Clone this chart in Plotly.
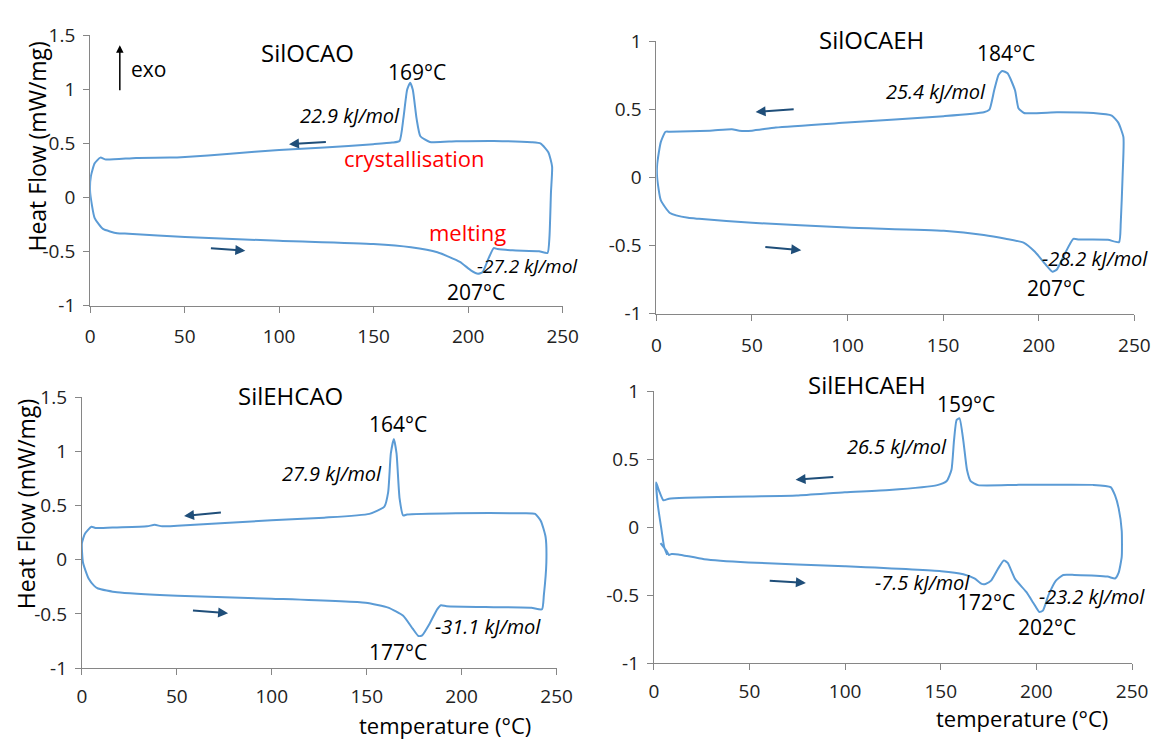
import plotly.graph_objects as go

# ---------------- data ----------------
# SilOCAO loop: heating (lower) left->right, then cooling (upper) right->left
T1 = [0, 2.4, 6.8, 14.3, 20.3, 50.2, 100, 149.8, 169.7, 183.7, 195.6, 201.6, 205.2, 207.6, 210.6, 213.5,
      215.5, 223.5, 237.5, 242, 243, 243.8, 244.4, 242.4, 238.4,
      233.5, 213.5, 193.6, 179.7, 174.7, 172.7, 170.7, 169.3, 167.7, 165.7, 163.7, 159.8, 149.8, 123.9,
      100, 74.1, 50.2, 42.2, 24.3, 8.4, 5.4, 2.4, 0.4, 0]
HF1 = [0.05, -0.19, -0.29, -0.33, -0.334, -0.364, -0.40, -0.43, -0.46, -0.506, -0.595, -0.675, -0.704, -0.69,
       -0.57, -0.467, -0.476, -0.488, -0.497, -0.512, -0.364, 0.05, 0.287, 0.42, 0.50,
       0.512, 0.524, 0.521, 0.515, 0.568, 0.73, 0.997, 1.062, 0.997, 0.73, 0.524, 0.509, 0.494, 0.464,
       0.441, 0.405, 0.376, 0.37, 0.367, 0.352, 0.37, 0.317, 0.198, 0.05]

# SilOCAEH
T2 = [0.4, 2.3, 7.1, 16.6, 22.3, 50, 99.7, 150.3, 171.3, 182.7, 192.3, 198, 203.7, 207.2, 209.5, 213.3,
      218.1, 221, 236.2, 242, 242.9, 243.9, 244.3, 241.6, 238.2,
      228.6, 209.5, 192.3, 189.4, 187.6, 183.7, 180.9, 179, 176.7, 174.2, 171.3, 150.3, 99.7, 62.5,
      50, 43.4, 39.5, 28, 7.1, 4.8, 2.3, 0.4, 0.4]
HF2 = [0, -0.166, -0.26, -0.296, -0.303, -0.332, -0.367, -0.391, -0.422, -0.45, -0.479, -0.545, -0.64, -0.692,
       -0.675, -0.569, -0.45, -0.455, -0.457, -0.474, -0.332, 0.024, 0.296, 0.403, 0.455,
       0.474, 0.479, 0.474, 0.509, 0.64, 0.765, 0.782, 0.754, 0.64, 0.498, 0.479, 0.45, 0.403, 0.367,
       0.344, 0.344, 0.355, 0.344, 0.336, 0.336, 0.26, 0.095, 0]

# SilEHCAO
T3 = [0, 0.6, 3.6, 6.5, 8.5, 18.5, 50.2, 99.8, 149.4, 161.3, 169.2, 174.2, 177.2, 179.2, 183.1, 187.1,
      189.1, 192.1, 216.9, 236.7, 242.3, 243.3, 244.6, 244.2, 241.7, 238.7,
      232.7, 197, 171.2, 169.2, 167.3, 165.7, 164.3, 162.7, 161.3, 159.3, 151.4, 127.6, 99.8, 50.2,
      42.3, 38.3, 34.3, 18.5, 7.5, 5, 1.6, 0]
HF3 = [0.15, -0.028, -0.176, -0.241, -0.265, -0.30, -0.332, -0.359, -0.397, -0.442, -0.516, -0.635, -0.703,
       -0.697, -0.59, -0.457, -0.419, -0.428, -0.437, -0.443, -0.457, -0.324, -0.027, 0.21, 0.358, 0.423,
       0.429, 0.429, 0.417, 0.408, 0.566, 0.98, 1.114, 0.98, 0.624, 0.49, 0.423, 0.388, 0.364, 0.314,
       0.308, 0.322, 0.308, 0.298, 0.292, 0.304, 0.24, 0.15]

# SilEHCAEH
T4 = [3.5, 6.6, 7.9, 9.3, 12.8, 26.3, 49.5, 99.8, 150.2, 161.8, 167.6, 171.4, 173.4, 176.3, 180.2, 183,
      185, 188.9, 194.7, 198.5, 201.5, 203.4, 206.3, 210.2, 214, 219.8, 237.2, 241.1,
      243, 244.6, 244.6, 243, 241.1, 238.8,
      229.5, 190.8, 169.5, 165.6, 163.7, 161.8, 159.8, 158.3, 156.9, 155.6, 153.1, 148.2, 123.1, 99.8,
      74.7, 49.5, 16.6, 7.9, 5, 2.7, 1.2, 2.1, 4.1, 5.4, 7]
HF4 = [-0.116, -0.173, -0.203, -0.196, -0.199, -0.234, -0.258, -0.286, -0.322, -0.345, -0.376, -0.416,
       -0.416, -0.392, -0.298, -0.243, -0.262, -0.381, -0.475, -0.558, -0.622, -0.612, -0.499, -0.392,
       -0.35, -0.35, -0.362, -0.376,
       -0.333, -0.215, -0.026, 0.139, 0.234, 0.296,
       0.312, 0.312, 0.31, 0.34, 0.423, 0.636, 0.801, 0.79, 0.636, 0.423, 0.34, 0.31, 0.274, 0.258,
       0.234, 0.227, 0.217, 0.21, 0.199, 0.27, 0.329, 0.163, -0.026, -0.144, -0.203]

X_TICKS = [0, 50, 100, 150, 200, 250]
Y_TICKS_A = [-1, -0.5, 0, 0.5, 1, 1.5]
Y_TEXT_A = ["-1", "-0.5", "0", "0.5", "1", "1.5"]
Y_TICKS_B = [-1, -0.5, 0, 0.5, 1]
Y_TEXT_B = ["-1", "-0.5", "0", "0.5", "1"]

TITLES = ["SilOCAO", "SilOCAEH", "SilEHCAO", "SilEHCAEH"]

# ---------------- figure ----------------
FONT = "Open Sans"
LINE = "#5B9BD5"
ARROW = "#1F4E79"
W, H = 1168, 742

fig = go.Figure()
series = [(T1, HF1), (T2, HF2), (T3, HF3), (T4, HF4)]
for i, (t, hf) in enumerate(series):
    sfx = "" if i == 0 else str(i + 1)
    fig.add_trace(go.Scatter(x=t, y=hf, mode="lines",
                             line=dict(color=LINE, width=2, shape="spline", smoothing=0.5),
                             xaxis="x" + sfx, yaxis="y" + sfx, showlegend=False, hoverinfo="skip"))

dom = [
    ((86.7, 567.9), (23.3, 303.3), (-1, 1.5), Y_TICKS_A, Y_TEXT_A, 8),
    ((663.3, 1150.0), (29.3, 311.7), (-1, 1), Y_TICKS_B, Y_TEXT_B, 8),
    ((78.3, 561.7), (398.0, 679.0), (-1, 1.5), Y_TICKS_A, Y_TEXT_A, 5),
    ((660.7, 1147.7), (392.0, 674.0), (-1, 1), Y_TICKS_B, Y_TEXT_B, 5),
]
axis_common = dict(showgrid=False, zeroline=False, showline=True, linecolor="#868686", linewidth=1,
                   ticks="outside", ticklen=6, tickcolor="#868686", tickwidth=1,
                   tickfont=dict(family=FONT, size=19, color="#222"))
layout = dict(width=W, height=H, margin=dict(l=0, r=0, t=0, b=0), plot_bgcolor="white",
              paper_bgcolor="white", showlegend=False)
for i, ((x0, x1), (y0, y1), yr, yt, ytt, so) in enumerate(dom):
    sfx = "" if i == 0 else str(i + 1)
    layout["xaxis" + sfx] = dict(axis_common, domain=[x0 / W, x1 / W], range=[0, 250],
                                 tickvals=X_TICKS, ticktext=[str(v) for v in X_TICKS],
                                 anchor="y" + sfx, ticklabelstandoff=so)
    layout["yaxis" + sfx] = dict(axis_common, domain=[1 - y1 / H, 1 - y0 / H], range=list(yr),
                                 tickvals=yt, ticktext=ytt, anchor="x" + sfx, ticklabelstandoff=4)
fig.update_layout(**layout)

ann = []


def txt(ref, x, y, s, size=21, italic=False, color="#000", xanchor="center"):
    ann.append(dict(xref="x" + ref, yref="y" + ref, x=x, y=y, text=("<i>%s</i>" % s) if italic else s,
                    showarrow=False, xanchor=xanchor, yanchor="middle",
                    font=dict(family=FONT, size=size, color=color)))


def ptxt(px, py, s, size=21, angle=0):
    ann.append(dict(xref="paper", yref="paper", x=px / W, y=1 - py / H, text=s, textangle=angle,
                    showarrow=False, xanchor="center", yanchor="middle",
                    font=dict(family=FONT, size=size, color="#000")))


def arrow(ref, xt, yt, xh, yh, color=ARROW, width=2):
    ann.append(dict(xref="x" + ref, yref="y" + ref, axref="x" + ref, ayref="y" + ref,
                    x=xh, y=yh, ax=xt, ay=yt, text="", showarrow=True, arrowhead=2,
                    arrowsize=1, arrowwidth=width, arrowcolor=color))


# panel titles (paper positions)
ptxt(308, 41, TITLES[0], size=24)
ptxt(882.7, 27.3, TITLES[1], size=24)
ptxt(291.2, 396.3, TITLES[2], size=24)
ptxt(877.9, 385, TITLES[3], size=24)

# panel 1
txt("", 173.1, 1.16, "169°C")
txt("", 137.6, 0.76, "22.9 kJ/mol", size=20, italic=True)
txt("", 171.7, 0.37, "crystallisation", size=22, color="#FF0000")
txt("", 199.6, -0.314, "melting", size=22, color="#FF0000")
txt("", 231.5, -0.635, "-27.2 kJ/mol", size=19, italic=True)
txt("", 204.2, -0.87, "207°C")
txt("", 20.3, 1.19, "exo", xanchor="left")
arrow("", 15.7, 0.98, 15.7, 1.41, color="#000", width=1.5)
arrow("", 125.5, 0.515, 105.2, 0.494)
arrow("", 63.1, -0.467, 82.1, -0.491)

# panel 2
txt("2", 182.8, 0.912, "184°C")
txt("2", 146.5, 0.633, "25.4 kJ/mol", size=20, italic=True)
txt("2", 229.2, -0.597, "-28.2 kJ/mol", size=20, italic=True)
txt("2", 208.9, -0.813, "207°C")
arrow("2", 72.6, 0.502, 51.9, 0.481)
arrow("2", 56.2, -0.509, 75.8, -0.533)

# panel 3
txt("3", 166.3, 1.248, "164°C")
txt("3", 131.9, 0.797, "27.9 kJ/mol", size=20, italic=True)
txt("3", 213.9, -0.611, "-31.1 kJ/mol", size=20, italic=True)
txt("3", 166.7, -0.849, "177°C")
arrow("3", 74.0, 0.438, 53.8, 0.403)
arrow("3", 57.7, -0.466, 77.0, -0.493)

# panel 4
txt("4", 163.1, 0.908, "159°C")
txt("4", 127.3, 0.593, "26.5 kJ/mol", size=20, italic=True)
txt("4", 140.5, -0.409, "-7.5 kJ/mol", size=20, italic=True)
txt("4", 173.4, -0.551, "172°C")
txt("4", 229.1, -0.511, "-23.2 kJ/mol", size=20, italic=True)
txt("4", 205.3, -0.735, "202°C")
arrow("4", 94.6, 0.371, 74.1, 0.35)
arrow("4", 59.8, -0.392, 79.5, -0.409)

# x-axis titles
ptxt(448, 738, "temperature (°C)", size=22)
ptxt(1036, 731, "temperature (°C)", size=22)
# y-axis titles
ptxt(33, 138, "Heat Flow (mW/mg)", size=23, angle=-90)
ptxt(21.5, 509, "Heat Flow (mW/mg)", size=23, angle=-90)

fig.update_layout(annotations=ann)
fig.write_html("out.html")
